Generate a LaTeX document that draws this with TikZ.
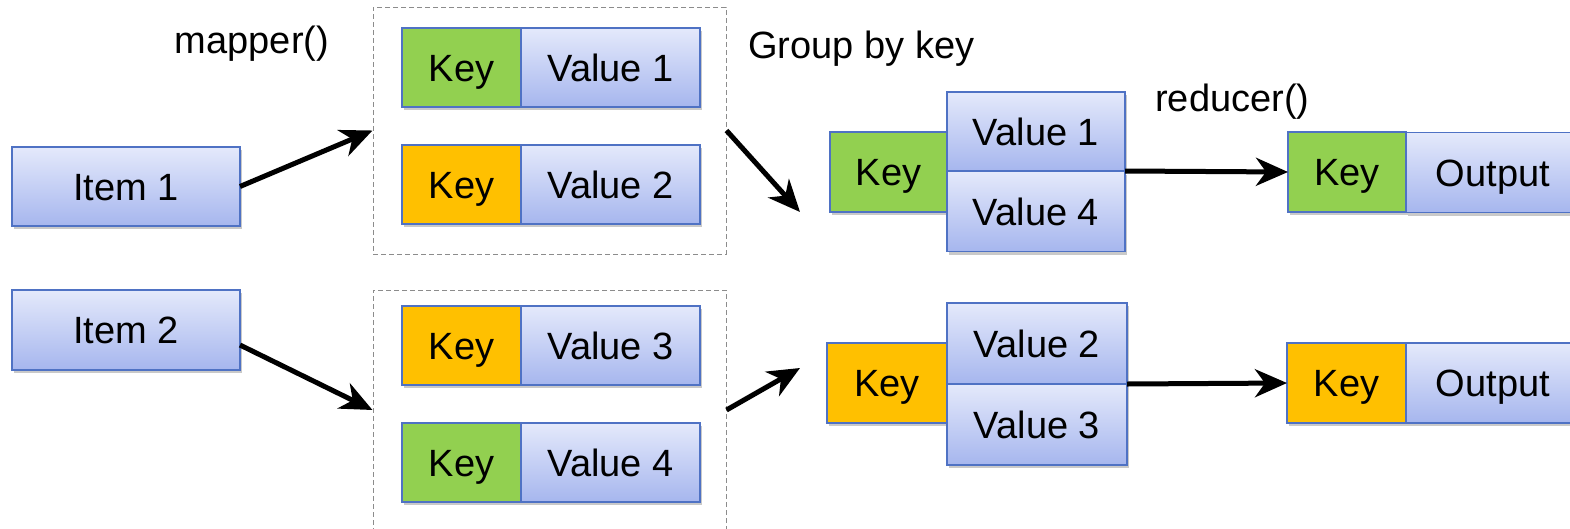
\documentclass[tikz,border=0pt]{standalone}
\usepackage{fontspec}
\setmainfont{Liberation Sans}
\usetikzlibrary{arrows.meta,shadows,calc}
\definecolor{bordblue}{RGB}{79,114,196}
\definecolor{topblue}{RGB}{228,233,251}
\definecolor{botblue}{RGB}{166,182,238}
\definecolor{keygreen}{RGB}{146,208,80}
\definecolor{keyorange}{RGB}{255,192,0}
\definecolor{dashgray}{RGB}{140,140,140}
\tikzset{
  base/.style={rectangle, draw=bordblue, line width=1.3pt, inner sep=0pt, outer sep=0pt,
    font=\fontsize{38}{44}\selectfont, text height=27pt, text depth=0pt,
    drop shadow={opacity=0.35, shadow xshift=1.5pt, shadow yshift=-3pt, fill=black!60}},
  bluebox/.style={base, top color=topblue, bottom color=botblue},
  greenkey/.style={base, fill=keygreen},
  orangekey/.style={base, fill=keyorange},
  dashbox/.style={rectangle, draw=dashgray, line width=1pt, dash pattern=on 5pt off 3pt, inner sep=0pt},
  flow/.style={line width=5pt, -{Stealth[length=32pt, width=28pt, inset=10pt]}},
  lbl/.style={font=\fontsize{38}{44}\selectfont, inner sep=0pt, text height=27pt, text depth=0pt}
}
\begin{document}
\begin{tikzpicture}[x=1pt,y=-1pt]
\useasboundingbox (0,0) rectangle (1570,528);
\fill[white] (0,0) rectangle (1570,528);

% dashed groups
\node[dashbox, minimum width=353pt, minimum height=247pt] (box1) at (549.5,130.5) {};
\node[dashbox, minimum width=353pt, minimum height=240pt] (box2) at (549.5,410) {};

% items
\node[bluebox, minimum width=228pt, minimum height=79pt] (item1) at (126,186.5) {Item 1};
\node[bluebox, minimum width=228pt, minimum height=80pt] (item2) at (126,330) {Item 2};

% mapper outputs
\node[greenkey, minimum width=119pt, minimum height=79pt] (k1) at (461.5,67.5) {Key};
\node[bluebox, minimum width=179pt, minimum height=79pt] (v1) at (610.5,67.5) {Value 1};
\node[orangekey, minimum width=119pt, minimum height=79pt] (k2) at (461.5,184.5) {Key};
\node[bluebox, minimum width=179pt, minimum height=79pt] (v2) at (610.5,184.5) {Value 2};
\node[orangekey, minimum width=119pt, minimum height=79pt] (k3) at (461.5,345.5) {Key};
\node[bluebox, minimum width=179pt, minimum height=79pt] (v3) at (610.5,345.5) {Value 3};
\node[greenkey, minimum width=119pt, minimum height=79pt] (k4) at (461.5,462.5) {Key};
\node[bluebox, minimum width=179pt, minimum height=79pt] (v4) at (610.5,462.5) {Value 4};

% grouped
\node[greenkey, minimum width=117pt, minimum height=80pt] (gk1) at (888.5,172) {Key};
\node[bluebox, minimum width=178pt, minimum height=79pt] (gv1) at (1036,131.5) {Value 1};
\node[bluebox, minimum width=178pt, minimum height=80pt] (gv4) at (1036,211.5) {Value 4};
\node[orangekey, minimum width=120pt, minimum height=80pt] (gk2) at (887,383) {Key};
\node[bluebox, minimum width=180pt, minimum height=81pt] (gv2) at (1037,343.5) {Value 2};
\node[bluebox, minimum width=180pt, minimum height=81pt] (gv3) at (1037,424.5) {Value 3};

% reduced
\node[greenkey, minimum width=118pt, minimum height=80pt] (ok1) at (1347,172) {Key};
\node[bluebox, minimum width=174pt, minimum height=80pt] (out1) at (1493,172.5) {Output};
\node[orangekey, minimum width=119pt, minimum height=80pt] (ok2) at (1346.5,383) {Key};
\node[bluebox, minimum width=174pt, minimum height=80pt] (out2) at (1493,383) {Output};

% labels
\node[lbl] (lmap) at (252,40) {mapper()};
\node[lbl, anchor=west] (lgrp) at (748,45) {Group by key};
\node[lbl, anchor=west] (lred) at (1155,98) {reducer()};

% connectors
\coordinate (i2out) at ($(item2.east)+(0,15)$);
\coordinate (g1in) at (800,212);
\coordinate (g2in) at (800,368);
\draw[flow] (item1.east) -- (box1.west);
\draw[flow] (i2out) -- (box2.west);
\draw[flow] (box1.east) -- (g1in);
\draw[flow] (box2.east) -- (g2in);
\draw[flow] (gv1.south east) -- (ok1.west);
\draw[flow] (gv2.south east) -- (ok2.west);
\end{tikzpicture}
\end{document}
